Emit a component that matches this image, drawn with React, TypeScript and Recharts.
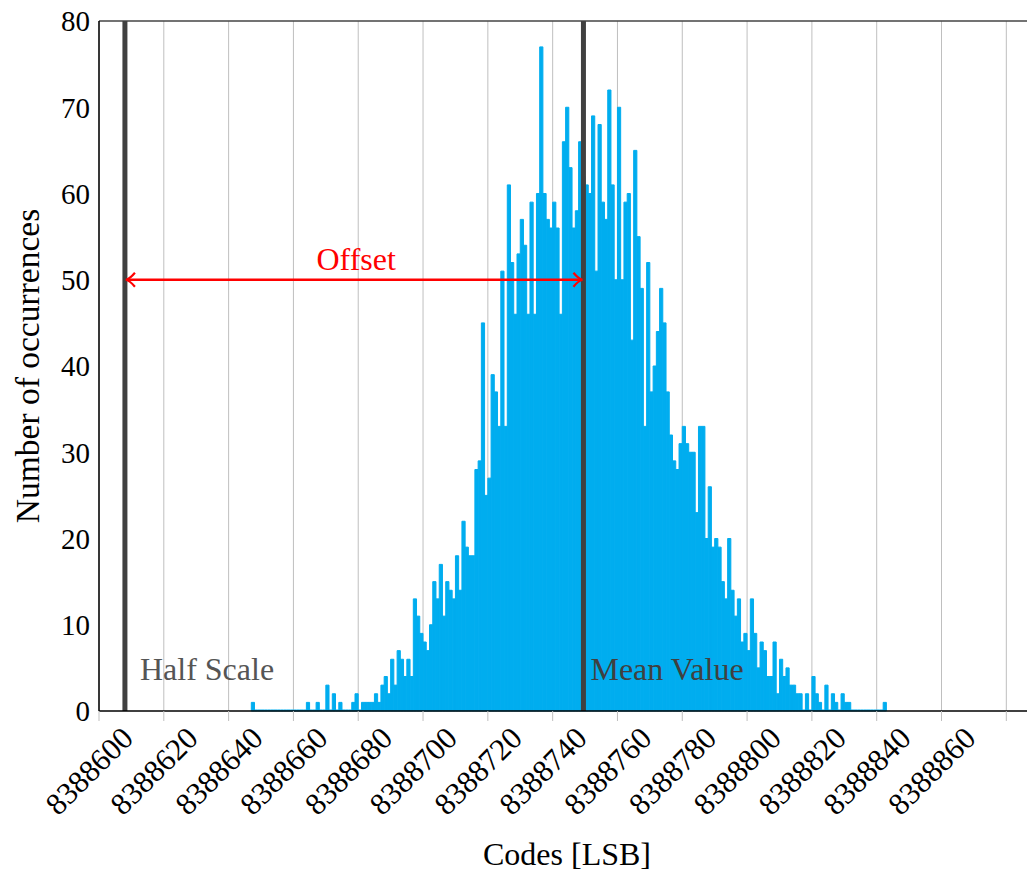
import React from 'react';
import { ComposedChart, Bar, XAxis, YAxis, CartesianGrid, ReferenceLine, Label } from 'recharts';

const FONT = '"Liberation Serif", "Times New Roman", serif';

// histogram: occurrences per output code, starting at code 8388647
const firstCode = 8388647;
const counts: number[] = [
  1, 0, 0, 0, 0, 0, 0, 0, 0, 0,
  0, 0, 0, 0, 0, 0, 0, 1, 0, 0,
  1, 0, 0, 3, 0, 2, 0, 1, 0, 0,
  0, 1, 2, 0, 1, 1, 1, 1, 2, 1,
  3, 4, 2, 6, 3, 7, 6, 4, 6, 4,
  13, 11, 9, 8, 7, 10, 15, 13, 17, 11,
  15, 14, 13, 18, 14, 22, 19, 18, 18, 28,
  29, 45, 25, 27, 39, 37, 33, 51, 33, 61,
  52, 46, 53, 57, 54, 46, 59, 46, 60, 77,
  60, 57, 56, 59, 56, 46, 66, 70, 63, 56,
  58, 66, 62, 61, 60, 69, 51, 68, 59, 57,
  72, 61, 50, 70, 50, 59, 60, 43, 65, 55,
  49, 33, 52, 37, 40, 44, 49, 45, 37, 32,
  29, 28, 31, 33, 31, 30, 30, 23, 33, 33,
  20, 26, 19, 20, 19, 15, 13, 20, 14, 11,
  13, 8, 9, 7, 13, 9, 5, 8, 7, 4,
  4, 8, 2, 6, 4, 5, 3, 3, 2, 2,
  0, 2, 0, 4, 2, 1, 0, 3, 0, 2,
  1, 0, 2, 1, 1, 0, 0, 0, 0, 0,
  0, 0, 0, 0, 0, 1,
];
const codes: number[] = counts.map((_, i) => firstCode + i);

const xTicks = [8388600, 8388620, 8388640, 8388660, 8388680, 8388700, 8388720, 8388740, 8388760, 8388780, 8388800, 8388820, 8388840, 8388860, 8388880];
const xTickLabels = ['8388600', '8388620', '8388640', '8388660', '8388680', '8388700', '8388720', '8388740', '8388760', '8388780', '8388800', '8388820', '8388840', '8388860', ''];
const yTicks = [0, 10, 20, 30, 40, 50, 60, 70, 80];
const xDomain: [number, number] = [8388600, 8388887];
const yDomain: [number, number] = [0, 80];

const halfScale = 8388608;
const meanValue = 8388749.5;
const offsetLevel = 50;

// each bar covers [code, code + 1]
const data = codes.map((c, i) => ({ x: c + 0.5, count: counts[i] }));

const XTick = (props: any) => {
  const { x, y, payload } = props;
  const label = xTickLabels[xTicks.indexOf(payload.value)];
  if (!label) return <g />;
  const tx = x + 36;
  const ty = y + 17;
  return (
    <text x={tx} y={ty} transform={`rotate(-45 ${tx} ${ty})`} textAnchor="end" fontFamily={FONT} fontSize={31} fill="#000">
      {label}
    </text>
  );
};

const ArrowShape = (props: any) => {
  const { x1, y1, x2 } = props;
  const y = y1;
  const mid = (x1 + x2) / 2;
  return (
    <g>
      <line x1={x1 + 2} y1={y} x2={x2 - 2} y2={y} stroke="#ff0000" strokeWidth={2.5} />
      <path d={`M ${x1 + 10} ${y - 7} Q ${x1 + 5} ${y - 1} ${x1 + 1} ${y} Q ${x1 + 5} ${y + 1} ${x1 + 10} ${y + 7}`} stroke="#ff0000" strokeWidth={2.2} fill="none" />
      <path d={`M ${x2 - 10} ${y - 7} Q ${x2 - 5} ${y - 1} ${x2 - 1} ${y} Q ${x2 - 5} ${y + 1} ${x2 - 10} ${y + 7}`} stroke="#ff0000" strokeWidth={2.2} fill="none" />
      <text x={mid + 2} y={y - 10} textAnchor="middle" fontFamily={FONT} fontSize={32} fill="#ff0000">Offset</text>
    </g>
  );
};

export default function App() {
  return (
    <div style={{ position: 'absolute', left: 0, top: 0, width: 1027, height: 872, overflow: 'hidden', background: '#fff' }}>
      <ComposedChart
        width={1040}
        height={872}
        data={data}
        margin={{ top: 21, right: 11, bottom: 11, left: 39 }}
        barCategoryGap={0}
        barGap={0}
      >
        <CartesianGrid xAxisId="main" yAxisId="left" horizontal={false} vertical stroke="#bfbfbf" strokeWidth={1} />
        <XAxis
          xAxisId="main"
          dataKey="x"
          type="number"
          domain={xDomain}
          ticks={xTicks}
          interval={0}
          allowDataOverflow
          height={150}
          axisLine={{ stroke: '#000', strokeWidth: 1.5 }}
          tickLine={{ stroke: '#bfbfbf' }}
          tickSize={10}
          tickMargin={2}
          tick={(p: any) => <XTick {...p} />}
        >
          <Label value="Codes [LSB]" position="insideBottom" offset={-4} dx={3} fontFamily={FONT} fontSize={32} fill="#000" />
        </XAxis>
        <YAxis
          yAxisId="left"
          domain={yDomain}
          ticks={yTicks}
          interval={0}
          width={60}
          tickLine={false}
          tickSize={0}
          tickMargin={9}
          axisLine={{ stroke: '#000', strokeWidth: 1.5 }}
          tick={{ fontFamily: FONT, fontSize: 29, fill: '#000' }}
        >
          <Label value="Number of occurrences" angle={-90} position="insideLeft" offset={-12} style={{ textAnchor: 'middle' }} fontFamily={FONT} fontSize={33.5} fill="#000" />
        </YAxis>
        <YAxis
          yAxisId="right"
          orientation="right"
          mirror
          domain={yDomain}
          ticks={yTicks}
          interval={0}
          width={0}
          tickSize={6}
          tickLine={{ stroke: '#000' }}
          axisLine={{ stroke: '#000', strokeWidth: 1.5 }}
          tickFormatter={() => ''}
        />
        <Bar
          xAxisId="main"
          yAxisId="left"
          dataKey="count"
          fill="#00adef"
          stroke="#00adef"
          strokeWidth={1}
          barSize={3.2}
          minPointSize={1}
          isAnimationActive={false}
        />
        <ReferenceLine
          xAxisId="main"
          yAxisId="left"
          y={80}
          stroke="#444"
          strokeWidth={1.5}
          ifOverflow="visible"
        />
        <ReferenceLine
          xAxisId="main"
          yAxisId="left"
          x={halfScale}
          stroke="#404040"
          strokeWidth={5}
          label={(p: any) => (
            <text x={p.viewBox.x + 15} y={p.viewBox.y + p.viewBox.height - 31} fontFamily={FONT} fontSize={32} fill="#555">
              Half Scale
            </text>
          )}
        />
        <ReferenceLine
          xAxisId="main"
          yAxisId="left"
          x={meanValue}
          stroke="#404040"
          strokeWidth={5}
          label={(p: any) => (
            <text x={p.viewBox.x + 7} y={p.viewBox.y + p.viewBox.height - 31} fontFamily={FONT} fontSize={32} fill="#404040">
              Mean Value
            </text>
          )}
        />
        <ReferenceLine
          xAxisId="main"
          yAxisId="left"
          segment={[{ x: halfScale, y: offsetLevel }, { x: meanValue, y: offsetLevel }]}
          stroke="#ff0000"
          strokeWidth={2.5}
          shape={(p: any) => <ArrowShape {...p} />}
        />
      </ComposedChart>
    </div>
  );
}
